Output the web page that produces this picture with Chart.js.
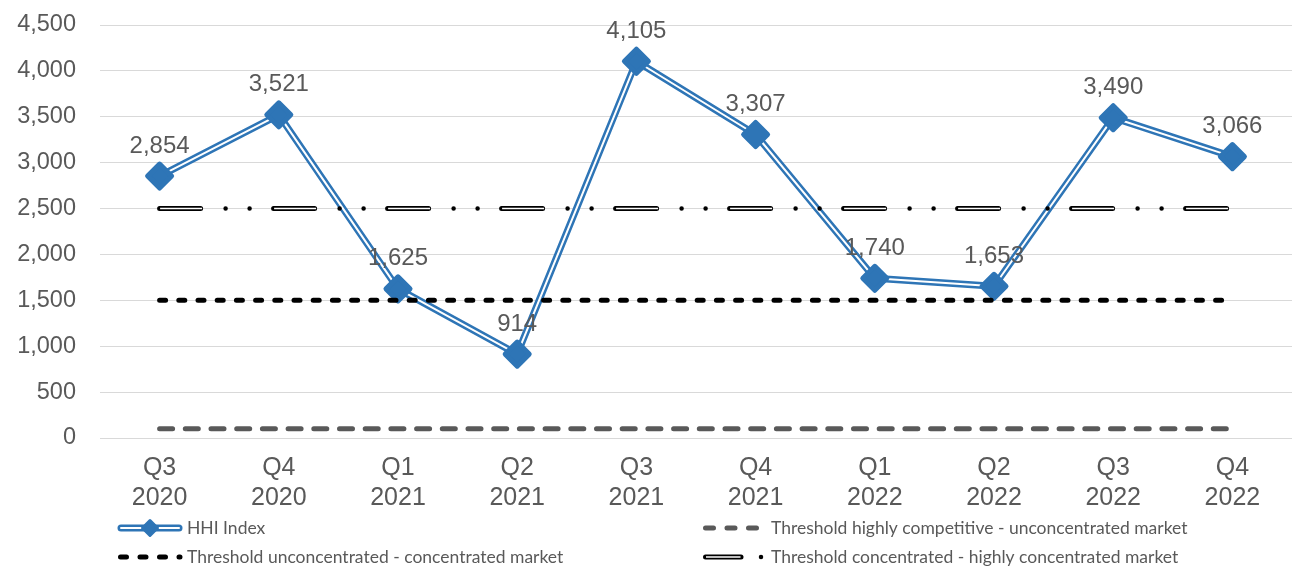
<!DOCTYPE html>
<html>
<head>
<meta charset="utf-8">
<script src="https://cdn.jsdelivr.net/npm/chart.js@4.4.1/dist/chart.umd.min.js"></script>
<style>
  html, body { margin: 0; padding: 0; background: #ffffff; }
  #wrap { width: 1292px; height: 569px; position: relative; }
</style>
</head>
<body>
<div id="wrap"><canvas id="hhiChart"></canvas></div>
<script>
// ── data ─────────────────────────────────────────────
const quarters = [
  ['Q3', '2020'], ['Q4', '2020'], ['Q1', '2021'], ['Q2', '2021'], ['Q3', '2021'],
  ['Q4', '2021'], ['Q1', '2022'], ['Q2', '2022'], ['Q3', '2022'], ['Q4', '2022']
];
const hhiIndex = [2854, 3521, 1625, 914, 4105, 3307, 1740, 1653, 3490, 3066];
const thrCompetitive  = [100, 100, 100, 100, 100, 100, 100, 100, 100, 100];
const thrConcentrated = [1500, 1500, 1500, 1500, 1500, 1500, 1500, 1500, 1500, 1500];
const thrHighly       = [2500, 2500, 2500, 2500, 2500, 2500, 2500, 2500, 2500, 2500];
const yMin = 0, yMax = 4500, yStep = 500;
const legendLabels = [
  'HHI Index',
  'Threshold highly competitive - unconcentrated market',
  'Threshold unconcentrated - concentrated market',
  'Threshold concentrated - highly concentrated market'
];

const BLUE = '#2E75B6';
const GREY_TXT = '#595959';
const ARIAL = '"Liberation Sans", Arial, sans-serif';
const LEGEND_FONT = '17.5px Lato, "Open Sans", sans-serif';

const fmt = v => v.toLocaleString('en-US');

// round joins so the diamonds get soft corners
const softJoins = {
  id: 'softJoins',
  beforeDatasetDraw(chart) { chart.ctx.lineJoin = 'round'; }
};

// value labels above the HHI markers
const valueLabels = {
  id: 'valueLabels',
  afterDatasetsDraw(chart) {
    const ctx = chart.ctx;
    const meta = chart.getDatasetMeta(5);
    ctx.save();
    ctx.font = '24px ' + ARIAL;
    ctx.fillStyle = GREY_TXT;
    ctx.textAlign = 'center';
    ctx.textBaseline = 'middle';
    meta.data.forEach((pt, i) => ctx.fillText(fmt(hhiIndex[i]), pt.x, pt.y - 30));
    ctx.restore();
  }
};

// two-column legend under the axis
const bottomLegend = {
  id: 'bottomLegend',
  afterDraw(chart) {
    const ctx = chart.ctx;
    const row1 = 528, row2 = 557;
    const seg = (x1, x2, y, color, w, dash, cap, off) => {
      ctx.save();
      ctx.beginPath();
      ctx.strokeStyle = color; ctx.lineWidth = w;
      ctx.setLineDash(dash || []); ctx.lineDashOffset = off || 0;
      ctx.lineCap = cap || 'butt';
      ctx.moveTo(x1, y); ctx.lineTo(x2, y); ctx.stroke();
      ctx.restore();
    };
    // HHI Index: double blue line with diamond
    seg(121, 179, row1, BLUE, 7, null, 'round');
    seg(121, 179, row1, '#ffffff', 2, null, 'round');
    ctx.save();
    ctx.fillStyle = BLUE; ctx.strokeStyle = BLUE; ctx.lineWidth = 3; ctx.lineJoin = 'round';
    ctx.beginPath();
    ctx.moveTo(150, row1 - 7.5); ctx.lineTo(157.5, row1); ctx.lineTo(150, row1 + 7.5); ctx.lineTo(142.5, row1);
    ctx.closePath(); ctx.fill(); ctx.stroke();
    ctx.restore();
    // dotted black
    seg(120.5, 180, row2, '#000000', 5, [6, 13.5], 'round');
    // dashed grey
    seg(705.5, 760, row1, GREY_TXT, 5, [8, 13.5], 'round');
    // double dash + dot
    seg(705.5, 741, row2, '#000000', 5, null, 'round');
    seg(706, 740.5, row2, '#ffffff', 1.5, null, 'butt');
    seg(761, 761, row2, '#000000', 4.5, null, 'round');

    ctx.save();
    ctx.font = LEGEND_FONT;
    ctx.fillStyle = GREY_TXT;
    ctx.textBaseline = 'middle';
    ctx.fillText(legendLabels[0], 187, row1);
    ctx.fillText(legendLabels[2], 187, row2);
    ctx.fillText(legendLabels[1], 771, row1);
    ctx.fillText(legendLabels[3], 771, row2);
    ctx.restore();
  }
};

const flat = { pointRadius: 0, pointHoverRadius: 0, fill: false, tension: 0 };

new Chart(document.getElementById('hhiChart'), {
  type: 'line',
  data: {
    labels: quarters,
    datasets: [
      { ...flat, label: legendLabels[1], data: thrCompetitive, order: 0,
        borderColor: GREY_TXT, borderWidth: 5, borderDash: [13, 12.7], borderCapStyle: 'round' },
      { ...flat, label: legendLabels[2], data: thrConcentrated, order: 1,
        borderColor: '#000000', borderWidth: 5, borderDash: [6, 13.2], borderCapStyle: 'round' },
      // 2500 threshold: outlined long dash + two dots
      { ...flat, label: legendLabels[3], data: thrHighly, order: 4,
        borderColor: '#000000', borderWidth: 5, borderDash: [41, 73], borderCapStyle: 'round' },
      { ...flat, label: '', data: thrHighly, order: 3,
        borderColor: '#ffffff', borderWidth: 1.5, borderDash: [42, 72], borderDashOffset: -0.5, borderCapStyle: 'butt' },
      { ...flat, label: '', data: thrHighly, order: 2,
        borderColor: '#000000', borderWidth: 4.5, borderDash: [0, 24, 0, 90], borderDashOffset: 48, borderCapStyle: 'round' },
      // HHI markers, white core line, blue outer line
      { label: legendLabels[0], data: hhiIndex, order: 5, showLine: false,
        pointStyle: 'rectRot', pointRadius: 12, pointHoverRadius: 12,
        pointBackgroundColor: BLUE, pointBorderColor: BLUE, pointBorderWidth: 5 },
      { ...flat, label: '', data: hhiIndex, order: 6,
        borderColor: '#ffffff', borderWidth: 2, borderJoinStyle: 'round' },
      { ...flat, label: '', data: hhiIndex, order: 7,
        borderColor: BLUE, borderWidth: 7, borderJoinStyle: 'round' }
    ]
  },
  options: {
    responsive: true,
    maintainAspectRatio: false,
    animation: false,
    events: [],
    layout: { autoPadding: false, padding: { top: 25, right: 0, bottom: 41, left: 0 } },
    plugins: {
      legend: { display: false },
      tooltip: { enabled: false }
    },
    scales: {
      x: {
        offset: true,
        afterFit(scale) { scale.paddingLeft = 0; scale.paddingRight = 0; },
        grid: { display: false, drawTicks: false },
        border: { display: false },
        ticks: {
          color: GREY_TXT, padding: 15, maxRotation: 0, autoSkip: false,
          font: { family: ARIAL, size: 25, lineHeight: 1.2 }
        }
      },
      y: {
        min: yMin, max: yMax,
        afterFit(scale) { scale.width = 100; scale.paddingTop = 0; scale.paddingBottom = 0; },
        grid: { color: '#D9D9D9', lineWidth: 1, drawTicks: false },
        border: { display: false },
        ticks: {
          stepSize: yStep, color: GREY_TXT, padding: 24,
          font: { family: ARIAL, size: 23.5 },
          callback: v => fmt(v)
        }
      }
    }
  },
  plugins: [softJoins, valueLabels, bottomLegend]
});
</script>
</body>
</html>
